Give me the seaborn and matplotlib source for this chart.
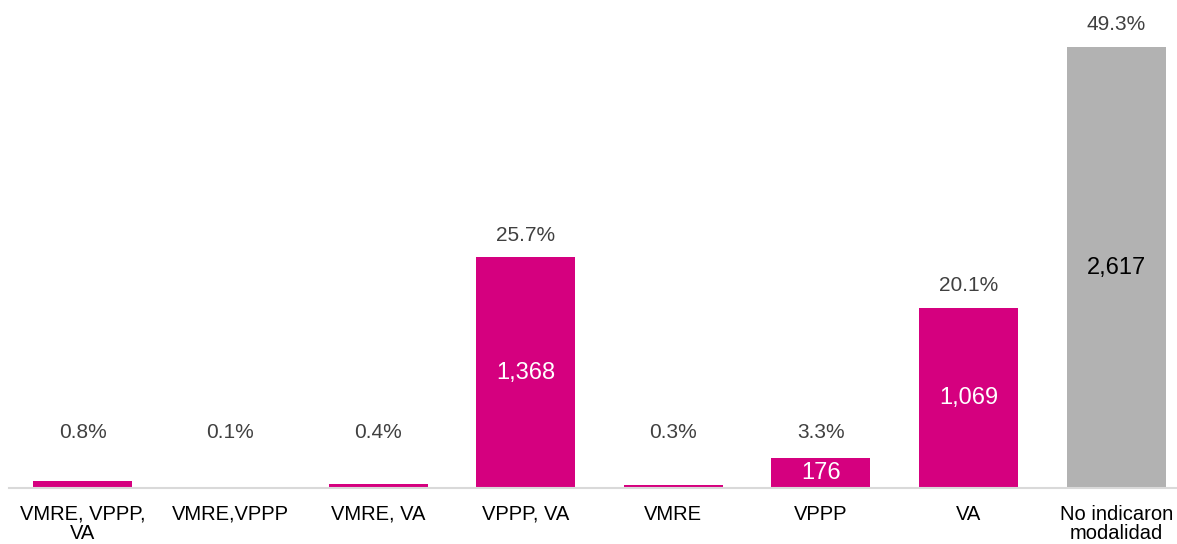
import matplotlib
matplotlib.use("Agg")
import matplotlib.pyplot as plt
import seaborn as sns
import pandas as pd

categories = ["VMRE, VPPP,\nVA", "VMRE,VPPP", "VMRE, VA", "VPPP, VA",
              "VMRE", "VPPP", "VA", "No indicaron\nmodalidad"]
counts = [42, 5, 21, 1368, 16, 176, 1069, 2617]
pcts = [0.8, 0.1, 0.4, 25.7, 0.3, 3.3, 20.1, 49.3]
groups = ["m", "m", "m", "m", "m", "m", "m", "g"]
show_count = [False, False, False, True, False, True, True, True]

df = pd.DataFrame({"cat": categories, "n": counts, "pct": pcts, "grp": groups})

sns.set_style("white")
plt.rcParams["font.family"] = ["Liberation Sans", "DejaVu Sans"]

fig = plt.figure(figsize=(11.77, 5.44), dpi=100)
ax = fig.add_axes([9 / 1177, 56 / 544, 1181 / 1177, 488 / 544])

sns.barplot(data=df, x="cat", y="n", hue="grp", dodge=False,
            palette={"m": "#D5007F", "g": "#B2B2B2"}, width=0.67,
            legend=False, ax=ax, saturation=1, linewidth=0)

ax.set_ylim(0, 2896)
ax.set_xlim(-0.5, 7.5)
ax.set_xlabel("")
ax.set_ylabel("")
ax.set_yticks([])
for s in ["top", "left", "right"]:
    ax.spines[s].set_visible(False)
ax.spines["bottom"].set_color("#D9D9D9")
ax.spines["bottom"].set_linewidth(1.5)
ax.tick_params(axis="x", length=0, pad=12, labelsize=14.5, labelcolor="#000000")
for lbl in ax.get_xticklabels():
    lbl.set_linespacing(1.05)

for i, (n, p, g, sc) in enumerate(zip(counts, pcts, groups, show_count)):
    ax.annotate(f"{p:.1f}%", (i, max(n, 200)), xytext=(0, 16),
                textcoords="offset points", ha="center", va="center",
                fontsize=15, color="#404040")
    if sc:
        ax.text(i, n / 2, f"{n:,}", ha="center", va="center", fontsize=17,
                color="white" if g == "m" else "black")

fig.savefig("out.png", dpi=100)
